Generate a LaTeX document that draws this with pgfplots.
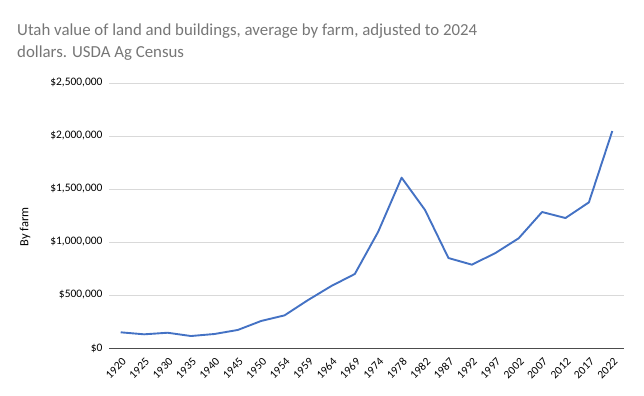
\documentclass[border=0pt]{standalone}
\usepackage{pgfplots}
\pgfplotsset{compat=1.18}
\usepackage{fontspec}
\setmainfont{Carlito}
\definecolor{xlblue}{HTML}{4472C4}
\definecolor{gridc}{HTML}{D9D9D9}
\definecolor{titlec}{HTML}{767676}
\begin{document}
\begin{tikzpicture}
\useasboundingbox (0bp,0bp) rectangle (644bp,396bp);
\node[anchor=base west, text=titlec, font=\fontsize{16.9}{20}\selectfont, inner sep=0] at (17bp,360bp) {Utah value of land and buildings, average by farm, adjusted to 2024};
\node[anchor=base west, text=titlec, font=\fontsize{16.9}{20}\selectfont, inner sep=0] at (17bp,338bp) {dollars. USDA Ag Census};
\node[rotate=90, font=\fontsize{12.5}{14}\selectfont, inner sep=0] at (25bp,169bp) {By farm};
\begin{axis}[
  at={(109bp,48bp)}, anchor=south west,
  width=515bp, height=265bp, scale only axis,
  xmin=-0.5, xmax=21.5, ymin=0, ymax=2500000,
  xtick=data,
  xticklabels={1920,1925,1930,1935,1940,1945,1950,1954,1959,1964,1969,1974,1978,1982,1987,1992,1997,2002,2007,2012,2017,2022},
  ytick={0,500000,1000000,1500000,2000000,2500000},
  scaled y ticks=false,
  yticklabel={\$\pgfmathprintnumber{\tick}},
  /pgf/number format/.cd, fixed, 1000 sep={,}, assume math mode=true, /pgfplots/.cd,
  major tick length=0,
  axis x line*=bottom, axis y line*=left,
  x axis line style={draw=black!70, line width=0.8pt, -},
  y axis line style={draw=none},
  ymajorgrids, grid style={gridc, line width=0.75pt},
  tick label style={font=\fontsize{11.5}{13}\selectfont},
  xticklabel style={xshift=3.5bp, yshift=-12bp, rotate=45, anchor=east, inner sep=0pt},
  yticklabel style={xshift=-3pt},
  clip=false,
]
\addplot[xlblue, line width=1.9pt, line join=round] coordinates {
(0,148000) (1,129000) (2,144000) (3,113000) (4,132000) (5,170000) (6,255000) (7,308000) (8,452000) (9,585000) (10,698000) (11,1097000) (12,1607000) (13,1302000) (14,849000) (15,786000) (16,895000) (17,1035000) (18,1283000) (19,1226000) (20,1374000) (21,2047000)
};
\end{axis}
\end{tikzpicture}
\end{document}
